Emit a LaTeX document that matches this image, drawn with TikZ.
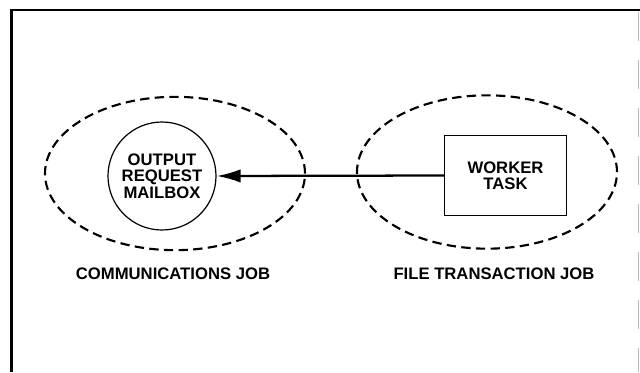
\documentclass[tikz,border=0pt]{standalone}
\usepackage{fontspec}
\setmainfont{Liberation Sans}
\usetikzlibrary{shapes.geometric,arrows.meta}
\begin{document}
\begin{tikzpicture}[x=0.75pt,y=-0.75pt,
  font=\fontsize{12.5pt}{12.2pt}\selectfont\bfseries,
  jobzone/.style={draw, dashed, dash pattern=on 7pt off 4pt, line width=1.6pt,
    ellipse, minimum width=195pt, minimum height=115pt, inner sep=0pt},
  mailbox/.style={draw, circle, line width=0.9pt, minimum size=81pt, inner sep=0pt,
    align=center},
  taskbox/.style={draw, rectangle, line width=0.9pt, minimum width=91pt,
    minimum height=60pt, inner sep=0pt, align=center},
  joblabel/.style={inner sep=0pt},
  flow/.style={line width=1.7pt, -{Latex[length=18pt,width=10pt]}}
]
  % page extent
  \useasboundingbox (0,0) rectangle (640,372);

  % frame around the figure
  \draw[line width=2.2pt] (11.5,372) -- (11.5,10) -- (640,10);
  \draw[gray!55, line width=0.6pt, dash pattern=on 22pt off 14pt] (638.5,12) -- (638.5,372);

  % the two jobs
  \node[jobzone] (comm) at (175,173.5) {};
  \node[jobzone] (file) at (487,172) {};

  % contents of each job
  \node[mailbox] (mbox) at (162,176) {OUTPUT\\REQUEST\\MAILBOX};
  \node[taskbox] (worker) at (505.5,175.5) {WORKER\\TASK};

  % job names
  \node[joblabel] (commlabel) at (173,274) {COMMUNICATIONS JOB};
  \node[joblabel] (filelabel) at (494,274) {FILE TRANSACTION JOB};

  % request flow from the worker to the mailbox
  \draw[flow] (worker.west) -- (mbox.east);
\end{tikzpicture}
\end{document}
